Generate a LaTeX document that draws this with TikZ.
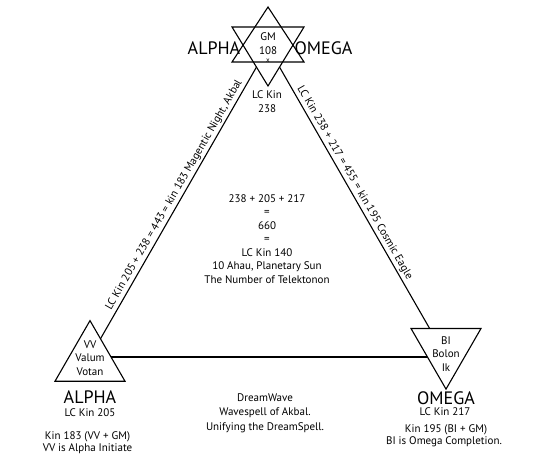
\documentclass[tikz,border=0pt]{standalone}
\usepackage{fontspec}
\setmainfont{PT Sans}
\usetikzlibrary{shapes.geometric}

\begin{document}
\begin{tikzpicture}[x=1pt, y=-1pt, line width=1.1pt, font=\fontsize{11}{13.5}\selectfont]
        \tikzstyle{tri}   = [regular polygon, regular polygon sides=3, minimum size=80.8pt, inner sep=0pt, draw, fill=white]
        \tikzstyle{big}   = [font=\fontsize{18}{20}\selectfont, anchor=base, inner sep=0pt]
        \tikzstyle{txt}   = [anchor=base, inner sep=0pt]
        \tikzstyle{side}  = [above, sloped, inner sep=2pt]

        \useasboundingbox (0,0) rectangle (534,460);

        \coordinate (gm) at (268,47);
        \coordinate (alpha) at (90,357);
        \coordinate (omega) at (446,357);

        \draw (alpha) -- node[side, pos=0.51]{LC Kin 205 + 238 = 443 = kin 183 Magentic Night, Akbal} (gm);
        \draw (gm) -- node[side, pos=0.45]{LC Kin 238 + 217 = 455 = kin 195 Cosmic Eagle} (omega);
        \draw (alpha) -- (omega);

        % star
        \fill[white] (268,7) -- (304,62) -- (232,62) -- cycle (232,27) -- (304,27) -- (268,86) -- cycle;
        \draw (268,7) -- (304,62) -- (232,62) -- cycle;
        \draw (232,27) -- (304,27) -- (268,86) -- cycle;
        \node [txt](gmtxt) at (268,41) {GM};
        \node [txt](gmnum) at (268,54) {108};
        \node [txt, font=\scriptsize](gmx) at (268,63) {x};

        \node [tri](vv) at (90,361) {};
        \node [tri, shape border rotate=180](bi) at (446,348.7) {};

        \foreach \t [count=\i] in {VV, Valum, Votan}
                \node [txt](vv\i) at (90, {334.5 + 13.5*\i}) {\t};
        \foreach \t [count=\i] in {BI, Bolon, Ik}
                \node [txt](bi\i) at (446, {330.5 + 13.7*\i}) {\t};

        \node [big](alphatop) at (214,55) {ALPHA};
        \node [big](omegatop) at (323.5,55) {OMEGA};
        \node [txt](kintop) at (267,98) {LC Kin};
        \node [txt](kintopnum) at (267,112) {238};

        \foreach \t [count=\i] in {238 + 205 + 217, =, 660, =, LC Kin 140, {10 Ahau, Planetary Sun}, The Number of Telektonon}
                \node [txt](sum\i) at (267, {188.5 + 13.5*\i}) {\t};

        \node [big](alphabot) at (90,403) {ALPHA};
        \node [txt](kinalpha) at (90,416) {LC Kin 205};
        \node [txt](vvsum) at (87.5,439) {Kin 183 (VV + GM)};
        \node [txt](vvnote) at (87.5,451) {VV is Alpha Initiate};

        \node [big](omegabot) at (446,404) {OMEGA};
        \node [txt](kinomega) at (445,415) {LC Kin 217};
        \node [txt](bisum) at (446,432) {Kin 195 (BI + GM)};
        \node [txt](binote) at (444,444) {BI is Omega Completion.};

        \foreach \t [count=\i] in {DreamWave, Wavespell of Akbal., Unifying the DreamSpell.}
                \node [txt](wave\i) at (265, {386.5 + 14.5*\i}) {\t};
\end{tikzpicture}
\end{document}
